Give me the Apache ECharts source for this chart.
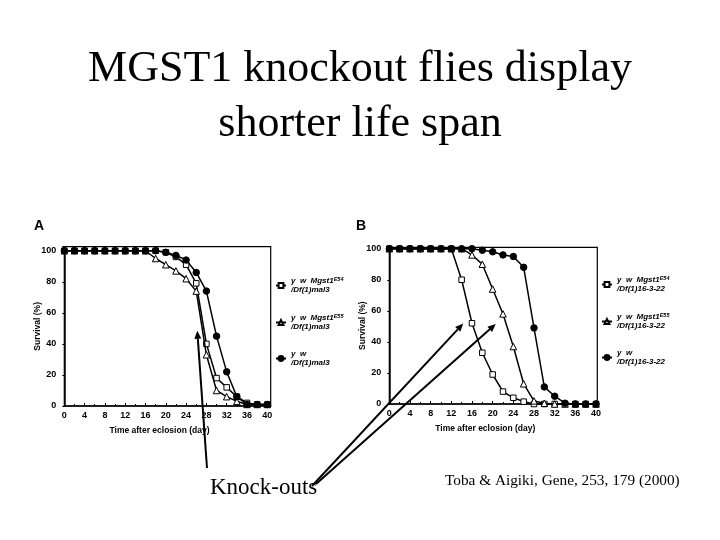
<!DOCTYPE html>
<html>
<head>
<meta charset="utf-8">
<script src="https://cdn.jsdelivr.net/npm/echarts@6/dist/echarts.min.js"></script>
<style>html,body{margin:0;padding:0;background:#fff}#c{width:720px;height:540px}</style>
</head>
<body>
<div id="c"></div>
<script>
// ---- data ----
const days = [0,2,4,6,8,10,12,14,16,18,20,22,24,26,28,30,32,34,36,38,40];
// Panel A (/Df(1)mal3)
const aE54 = [100,100,100,100,100,100,100,100,100,100,99,96,91,79,40,18,12,6,2,1,1];
const aE55 = [100,100,100,100,100,100,100,100,100,95,91,87,82,74,33,10,6,3,1,1,1];
const aCtl = [100,100,100,100,100,100,100,100,100,100,99,97,94,86,74,45,22,6,1,1,1];
// Panel B (/Df(1)16-3-22)
const bE54 = [100,100,100,100,100,100,100,80,52,33,19,8,4,1.5,0,0,0,0,0,0,0];
const bE55 = [100,100,100,100,100,100,100,100,96,90,74,58,37,13,2,0.5,0,0,0,0,0];
const bCtl = [100,100,100,100,100,100,100,100,100,99,98,96,95,88,49,11,5,0.5,0,0,0];
const xTicks = [0,4,8,12,16,20,24,28,32,36,40];
const yTicks = [0,20,40,60,80,100];
const namesA = ['y w Mgst1E54 /Df(1)mal3','y w Mgst1E55 /Df(1)mal3','y w /Df(1)mal3'];
const namesB = ['y w Mgst1E54 /Df(1)16-3-22','y w Mgst1E55 /Df(1)16-3-22','y w /Df(1)16-3-22'];
const legendRich = {
  'y w Mgst1E54 /Df(1)mal3': '{a|y  w  Mgst1}{s|E54}\n{a|/Df(1)mal3}',
  'y w Mgst1E55 /Df(1)mal3': '{a|y  w  Mgst1}{s|E55}\n{a|/Df(1)mal3}',
  'y w /Df(1)mal3': '{a|y  w}\n{a|/Df(1)mal3}',
  'y w Mgst1E54 /Df(1)16-3-22': '{a|y  w  Mgst1}{s|E54}\n{a|/Df(1)16-3-22}',
  'y w Mgst1E55 /Df(1)16-3-22': '{a|y  w  Mgst1}{s|E55}\n{a|/Df(1)16-3-22}',
  'y w /Df(1)16-3-22': '{a|y  w}\n{a|/Df(1)16-3-22}'
};
const titleLines = 'MGST1 knockout flies display\nshorter life span';
// annotation arrows: [tail pixel, tip in data coords, grid index]
const arrowA = {tail:[207,468], tip:[26.2,48.5], grid:0};
const arrowB1 = {tail:[312,486], tip:[14.3,51.8], grid:1};
const arrowB2 = {tail:[316,484], tip:[20.6,51.5], grid:1};

const zip = (ys) => days.map((d,i)=>[d, ys[i]]);
const chart = echarts.init(document.getElementById('c'), null, {renderer:'canvas'});
const lab = {fontFamily:'Liberation Sans, Arial, sans-serif', fontWeight:'bold', fontSize:9, color:'#000'};

function xAxis(gi, max){
  return {type:'value', gridIndex:gi, min:0, max:max, interval:4,
    name:'Time after eclosion (day)', nameLocation:'middle', nameGap:20,
    nameTextStyle:Object.assign({}, lab, {fontSize:8.5, padding:[0,16,0,0]}),
    axisLine:{lineStyle:{color:'#000', width:1.5}},
    axisTick:{inside:true, length:3, lineStyle:{color:'#000'}},
    minorTick:{show:true, splitNumber:2, length:2, lineStyle:{color:'#000'}},
    splitLine:{show:false},
    axisLabel:Object.assign({}, lab, {margin:5, formatter:v=> xTicks.indexOf(v)>=0 ? String(v) : ''})};
}
function yAxis(gi, max){
  return {type:'value', gridIndex:gi, min:0, max:max, interval:20,
    name:'Survival (%)', nameLocation:'middle', nameGap:22, nameRotate:90, nameMoveOverlap:false,
    nameTextStyle:Object.assign({}, lab, {fontSize:8.5}),
    axisLine:{show:true, lineStyle:{color:'#000', width:1.5}},
    axisTick:{show:true, inside:false, length:2, lineStyle:{color:'#000'}},
    splitLine:{show:false},
    axisLabel:Object.assign({}, lab, {margin:8, formatter:v=> yTicks.indexOf(v)>=0 ? String(v) : ''})};
}
function ser(name, gi, ys, kind){
  const base = {name:name, type:'line', xAxisIndex:gi, yAxisIndex:gi, data:zip(ys),
    lineStyle:{color:'#000', width:1.5}, animation:false, clip:false};
  if(kind==='sq') Object.assign(base,{symbol:'rect', symbolSize:5.5, itemStyle:{color:'#fff', borderColor:'#000', borderWidth:1}, z:2});
  if(kind==='tri') Object.assign(base,{symbol:'triangle', symbolSize:6.5, itemStyle:{color:'#fff', borderColor:'#000', borderWidth:1}, z:3});
  if(kind==='ci') Object.assign(base,{symbol:'circle', symbolSize:6.5, itemStyle:{color:'#000', borderColor:'#000', borderWidth:1}, z:4});
  return base;
}
const legendBase = {orient:'vertical', padding:0, itemWidth:10, itemHeight:6, itemGap:19, selectedMode:false,
  formatter: n => legendRich[n],
  textStyle:{rich:{
    a:{fontFamily:'Liberation Sans, Arial, sans-serif', fontWeight:'bold', fontStyle:'italic', fontSize:8, lineHeight:9, color:'#000'},
    s:{fontFamily:'Liberation Sans, Arial, sans-serif', fontWeight:'bold', fontStyle:'italic', fontSize:5.5, lineHeight:9, color:'#000', padding:[0,0,4,0]}
  }}};

chart.setOption({
  backgroundColor:'#fff',
  animation:false,
  grid:[
    {left:64.3, top:246.7, width:206.4, height:159.3, show:true, borderColor:'#000', borderWidth:1.2, containLabel:false},
    {left:389.3, top:247.3, width:208, height:156.7, show:true, borderColor:'#000', borderWidth:1.2, containLabel:false}
  ],
  xAxis:[xAxis(0, 40.67), xAxis(1, 40.25)],
  yAxis:[yAxis(0, 102.6), yAxis(1, 100.9)],
  legend:[
    Object.assign({}, legendBase, {left:275, top:276, data:namesA}),
    Object.assign({}, legendBase, {left:601, top:275, data:namesB})
  ],
  series:[
    ser(namesA[0],0,aE54,'sq'), ser(namesA[1],0,aE55,'tri'), ser(namesA[2],0,aCtl,'ci'),
    ser(namesB[0],1,bE54,'sq'), ser(namesB[1],1,bE55,'tri'), ser(namesB[2],1,bCtl,'ci')
  ]
});

function arrow(a){
  const tail = a.tail;
  const tip = chart.convertToPixel({gridIndex:a.grid}, a.tip);
  const dx = tip[0]-tail[0], dy = tip[1]-tail[1], L = Math.hypot(dx,dy);
  const ux = dx/L, uy = dy/L, hl = 8, hw = 3.5;
  const base = [tip[0]-ux*hl, tip[1]-uy*hl];
  return [
    {type:'line', z:100, shape:{x1:tail[0], y1:tail[1], x2:base[0], y2:base[1]}, style:{stroke:'#000', lineWidth:2}},
    {type:'polygon', z:100, shape:{points:[tip, [base[0]-uy*hw, base[1]+ux*hw], [base[0]+uy*hw, base[1]-ux*hw]]}, style:{fill:'#000'}}
  ];
}
const serif = 'Liberation Serif, Times New Roman, serif';
chart.setOption({graphic:[
  {type:'text', x:360, y:42, style:{text:titleLines, font:'44px '+serif, lineHeight:55, fill:'#000', align:'center', verticalAlign:'top'}},
  {type:'text', left:34, top:219, style:{text:'A', font:'bold 14px Liberation Sans, Arial, sans-serif', fill:'#000'}},
  {type:'text', left:356, top:219, style:{text:'B', font:'bold 14px Liberation Sans, Arial, sans-serif', fill:'#000'}},
  {type:'text', left:210, top:476, style:{text:'Knock-outs', font:'23px '+serif, fill:'#000'}},
  {type:'text', left:445, top:473, style:{text:'Toba & Aigiki, Gene, 253, 179 (2000)', font:'15.3px '+serif, fill:'#000'}}
].concat(arrow(arrowA), arrow(arrowB1), arrow(arrowB2))});
</script>
</body>
</html>
